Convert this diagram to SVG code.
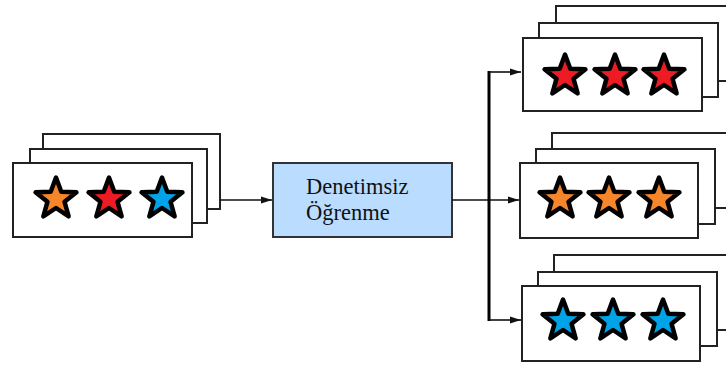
<svg xmlns="http://www.w3.org/2000/svg" width="726" height="365" viewBox="0 0 726 365">
<style>
.card{fill:#ffffff;stroke:#222222;stroke-width:2}
.star{stroke:#000000;stroke-width:4.5;stroke-linejoin:round}
.o{fill:#f7862a}
.r{fill:#ed1c24}
.b{fill:#00a2e8}
.box{fill:#b9dcff;stroke:#333333;stroke-width:2}
.lbl{font-family:"Liberation Serif","Times New Roman",serif;font-size:22.5px;fill:#111111}
.ln{fill:none;stroke:#111111;stroke-width:1.6}
.bus{fill:none;stroke:#000000;stroke-width:3}
</style>
<defs>
<path id="starShape" d="M0,-21.5 L5.29,-7.28 L20.45,-6.64 L8.56,2.78 L12.64,17.39 L0,9 L-12.64,17.39 L-8.56,2.78 L-20.45,-6.64 L-5.29,-7.28 Z"/>
<marker id="arr" markerUnits="userSpaceOnUse" markerWidth="12" markerHeight="8" refX="11" refY="4" orient="auto">
<path d="M0,0.4 L11,4 L0,7.6 Z" fill="#111111"/>
</marker>
</defs>

<g id="input-stack">
<rect class="card" x="43" y="134" width="177" height="75"/>
<rect class="card" x="30" y="149" width="177" height="74"/>
<rect class="card" x="13" y="163" width="179" height="74"/>
<use href="#starShape" class="star o" x="56" y="199"/>
<use href="#starShape" class="star r" x="109" y="199"/>
<use href="#starShape" class="star b" x="162" y="199"/>
</g>

<g id="unsupervised-box">
<rect class="box" x="273" y="163" width="179" height="74"/>
<text class="lbl" x="306" y="194">Denetimsiz</text>
<text class="lbl" x="306" y="220">Öğrenme</text>
</g>

<g id="output-red">
<rect class="card" x="556" y="6" width="179" height="75"/>
<rect class="card" x="539" y="23" width="179" height="74"/>
<rect class="card" x="523" y="38" width="179" height="73"/>
<use href="#starShape" class="star r" x="565" y="76"/>
<use href="#starShape" class="star r" x="615" y="76"/>
<use href="#starShape" class="star r" x="664" y="76"/>
</g>

<g id="output-orange">
<rect class="card" x="552" y="133" width="179" height="75"/>
<rect class="card" x="536" y="149" width="179" height="75"/>
<rect class="card" x="520" y="163" width="178" height="75"/>
<use href="#starShape" class="star o" x="560" y="199"/>
<use href="#starShape" class="star o" x="609" y="199"/>
<use href="#starShape" class="star o" x="659" y="199"/>
</g>

<g id="output-blue">
<rect class="card" x="554" y="255" width="179" height="75"/>
<rect class="card" x="538" y="272" width="179" height="74"/>
<rect class="card" x="522" y="286" width="178" height="75"/>
<use href="#starShape" class="star b" x="563" y="321"/>
<use href="#starShape" class="star b" x="613" y="321"/>
<use href="#starShape" class="star b" x="663" y="321"/>
</g>

<g id="connectors">
<line class="ln" x1="220" y1="200" x2="272" y2="200" marker-end="url(#arr)"/>
<line class="ln" x1="452" y1="200" x2="519" y2="200" marker-end="url(#arr)"/>
<line class="bus" x1="489" y1="71" x2="489" y2="321"/>
<line class="ln" x1="489" y1="72" x2="521" y2="72" marker-end="url(#arr)"/>
<line class="ln" x1="489" y1="320" x2="521" y2="320" marker-end="url(#arr)"/>
</g>
</svg>
